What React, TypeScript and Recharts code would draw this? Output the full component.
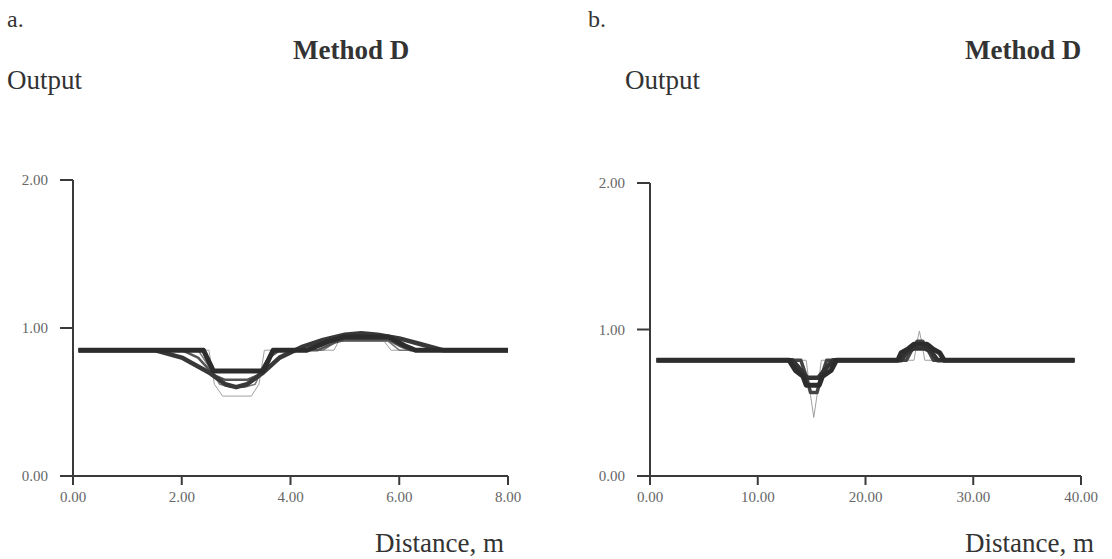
import React from 'react';
import { LineChart, Line, XAxis, YAxis } from 'recharts';

type Pt = { x: number; y: number };

const yTicks = [0, 1, 2];
const xTicksA = [0, 2, 4, 6, 8];
const xTicksB = [0, 10, 20, 30, 40];

// panel a – five outputs, thick/dark to thin/light
const a1: Pt[] = [
  { x: 0.1, y: 0.85 }, { x: 2.4, y: 0.85 }, { x: 2.58, y: 0.71 }, { x: 3.5, y: 0.71 },
  { x: 3.68, y: 0.85 }, { x: 4.3, y: 0.85 }, { x: 4.7, y: 0.91 }, { x: 5.0, y: 0.94 },
  { x: 5.8, y: 0.94 }, { x: 6.1, y: 0.88 }, { x: 6.3, y: 0.85 }, { x: 8.0, y: 0.85 },
];
const a2: Pt[] = [
  { x: 0.1, y: 0.85 }, { x: 1.5, y: 0.85 }, { x: 2.0, y: 0.8 }, { x: 2.5, y: 0.7 },
  { x: 2.8, y: 0.62 }, { x: 3.0, y: 0.6 }, { x: 3.2, y: 0.62 }, { x: 3.5, y: 0.7 },
  { x: 3.8, y: 0.8 }, { x: 4.2, y: 0.87 }, { x: 4.6, y: 0.92 }, { x: 5.0, y: 0.955 },
  { x: 5.3, y: 0.965 }, { x: 5.6, y: 0.955 }, { x: 6.0, y: 0.93 }, { x: 6.4, y: 0.89 },
  { x: 6.8, y: 0.85 }, { x: 8.0, y: 0.85 },
];
const a3: Pt[] = [
  { x: 0.1, y: 0.85 }, { x: 2.0, y: 0.85 }, { x: 2.3, y: 0.8 }, { x: 2.6, y: 0.68 },
  { x: 2.8, y: 0.65 }, { x: 3.2, y: 0.65 }, { x: 3.4, y: 0.68 }, { x: 3.6, y: 0.8 },
  { x: 3.8, y: 0.85 }, { x: 4.5, y: 0.85 }, { x: 4.8, y: 0.9 }, { x: 5.0, y: 0.92 },
  { x: 5.8, y: 0.92 }, { x: 6.0, y: 0.88 }, { x: 6.2, y: 0.85 }, { x: 8.0, y: 0.85 },
];
const a4: Pt[] = [
  { x: 0.1, y: 0.85 }, { x: 2.3, y: 0.85 }, { x: 2.5, y: 0.74 }, { x: 2.7, y: 0.62 },
  { x: 2.9, y: 0.6 }, { x: 3.15, y: 0.6 }, { x: 3.35, y: 0.62 }, { x: 3.5, y: 0.74 },
  { x: 3.7, y: 0.85 }, { x: 4.6, y: 0.85 }, { x: 4.85, y: 0.91 }, { x: 5.8, y: 0.91 },
  { x: 6.0, y: 0.85 }, { x: 8.0, y: 0.85 },
];
const a5: Pt[] = [
  { x: 0.1, y: 0.85 }, { x: 2.5, y: 0.85 }, { x: 2.6, y: 0.62 }, { x: 2.75, y: 0.54 },
  { x: 3.28, y: 0.54 }, { x: 3.42, y: 0.62 }, { x: 3.52, y: 0.85 }, { x: 4.8, y: 0.85 },
  { x: 4.9, y: 0.92 }, { x: 5.7, y: 0.92 }, { x: 5.85, y: 0.85 }, { x: 8.0, y: 0.85 },
];

// panel b
const b1: Pt[] = [
  { x: 0.6, y: 0.79 }, { x: 12.9, y: 0.79 }, { x: 13.5, y: 0.72 }, { x: 14.2, y: 0.68 },
  { x: 14.5, y: 0.62 }, { x: 15.7, y: 0.62 }, { x: 16.0, y: 0.68 }, { x: 16.8, y: 0.72 },
  { x: 17.3, y: 0.79 }, { x: 23.0, y: 0.79 }, { x: 23.3, y: 0.84 }, { x: 24.0, y: 0.87 },
  { x: 24.5, y: 0.9 }, { x: 25.7, y: 0.9 }, { x: 26.2, y: 0.87 }, { x: 26.9, y: 0.84 },
  { x: 27.3, y: 0.79 }, { x: 39.4, y: 0.79 },
];
const b2: Pt[] = [
  { x: 0.6, y: 0.79 }, { x: 13.2, y: 0.79 }, { x: 13.8, y: 0.74 }, { x: 14.6, y: 0.67 },
  { x: 15.6, y: 0.67 }, { x: 16.4, y: 0.74 }, { x: 17.0, y: 0.79 }, { x: 23.3, y: 0.79 },
  { x: 23.9, y: 0.85 }, { x: 24.5, y: 0.87 }, { x: 25.5, y: 0.87 }, { x: 26.1, y: 0.85 },
  { x: 26.7, y: 0.79 }, { x: 39.4, y: 0.79 },
];
const b3: Pt[] = [
  { x: 0.6, y: 0.79 }, { x: 14.0, y: 0.79 }, { x: 14.5, y: 0.68 }, { x: 14.9, y: 0.57 },
  { x: 15.5, y: 0.57 }, { x: 15.9, y: 0.68 }, { x: 16.4, y: 0.79 }, { x: 23.8, y: 0.79 },
  { x: 24.3, y: 0.86 }, { x: 24.8, y: 0.92 }, { x: 25.3, y: 0.92 }, { x: 25.8, y: 0.86 },
  { x: 26.3, y: 0.79 }, { x: 39.4, y: 0.79 },
];
const b4: Pt[] = [
  { x: 0.6, y: 0.79 }, { x: 14.5, y: 0.79 }, { x: 14.9, y: 0.55 }, { x: 15.2, y: 0.4 },
  { x: 15.5, y: 0.55 }, { x: 15.9, y: 0.79 }, { x: 24.5, y: 0.79 }, { x: 24.8, y: 0.92 },
  { x: 25.0, y: 0.99 }, { x: 25.2, y: 0.92 }, { x: 25.5, y: 0.79 }, { x: 39.4, y: 0.79 },
];

const serif = '"Liberation Serif", "DejaVu Serif", serif';
const axisStroke = '#3a3a3a';
const tickStyle = { fill: '#666', fontSize: 15, fontFamily: serif };
const fmt = (v: number) => v.toFixed(2);

const txt = (left: number, top: number, size: number, bold = false): React.CSSProperties => ({
  position: 'absolute', left, top, fontSize: size, fontFamily: serif, color: '#333',
  fontWeight: bold ? 'bold' : 'normal', lineHeight: 1.15, whiteSpace: 'nowrap',
});

function Panel({ xTicks, xMax, lines, left, yAxisW, marginTop, marginRight, width }: {
  xTicks: number[]; xMax: number; lines: { data: Pt[]; color: string; w: number }[];
  left: number; yAxisW: number; marginTop: number; marginRight: number; width: number;
}) {
  return (
    <div style={{ position: 'absolute', left, top: 0 }}>
      <LineChart width={width} height={559} margin={{ top: marginTop, right: marginRight, bottom: 43, left: 0 }}>
        <XAxis
          type="number" dataKey="x" domain={[0, xMax]} ticks={xTicks} interval={0}
          tickFormatter={fmt} tick={tickStyle} tickSize={9} tickMargin={6} height={40}
          axisLine={{ stroke: axisStroke, strokeWidth: 2 }} tickLine={{ stroke: axisStroke, strokeWidth: 2 }}
          allowDataOverflow
        />
        <YAxis
          type="number" domain={[0, 2]} ticks={yTicks} interval={0} width={yAxisW}
          tickFormatter={fmt} tick={tickStyle} tickSize={13} tickMargin={12}
          axisLine={{ stroke: axisStroke, strokeWidth: 2 }} tickLine={{ stroke: axisStroke, strokeWidth: 2 }}
          allowDataOverflow
        />
        {lines.map((l, i) => (
          <Line
            key={i} data={l.data} dataKey="y" type="linear" stroke={l.color} strokeWidth={l.w}
            dot={false} isAnimationActive={false} strokeLinejoin="round"
          />
        ))}
      </LineChart>
    </div>
  );
}

export default function App() {
  return (
    <div style={{ position: 'fixed', left: 0, top: 0, width: 1112, height: 559, background: '#fff', overflow: 'hidden' }}>
      <Panel
        left={0} width={540} xMax={8} xTicks={xTicksA} yAxisW={73} marginTop={180} marginRight={32}
        lines={[
          { data: a5, color: '#a0a0a0', w: 1 },
          { data: a4, color: '#777', w: 1.5 },
          { data: a3, color: '#555', w: 2.5 },
          { data: a2, color: '#383838', w: 4.5 },
          { data: a1, color: '#2c2c2c', w: 5 },
        ]}
      />
      <Panel
        left={560} width={552} xMax={40} xTicks={xTicksB} yAxisW={90} marginTop={183} marginRight={31}
        lines={[
          { data: b4, color: '#a0a0a0', w: 1 },
          { data: b3, color: '#444', w: 3.5 },
          { data: b2, color: '#333', w: 4.5 },
          { data: b1, color: '#2c2c2c', w: 5 },
        ]}
      />
      <div style={txt(7, 6, 24)}>a.</div>
      <div style={txt(293, 35, 27, true)}>Method D</div>
      <div style={txt(7, 65, 27)}>Output</div>
      <div style={txt(375, 528, 27)}>Distance, m</div>
      <div style={txt(588, 6, 24)}>b.</div>
      <div style={txt(965, 35, 27, true)}>Method D</div>
      <div style={txt(625, 65, 27)}>Output</div>
      <div style={txt(965, 528, 27)}>Distance, m</div>
    </div>
  );
}
